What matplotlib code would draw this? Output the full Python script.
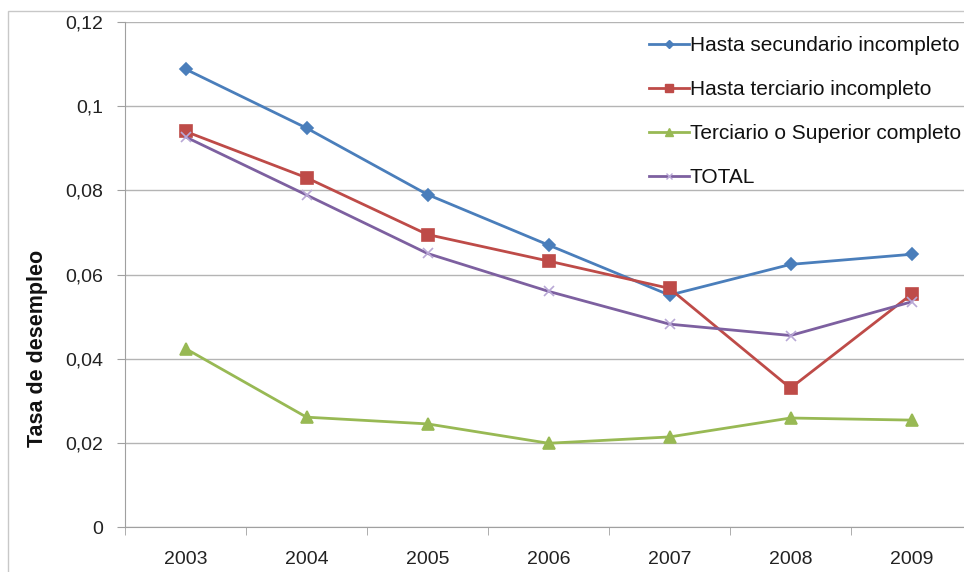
import matplotlib
matplotlib.use("Agg")
import matplotlib.pyplot as plt
from matplotlib.lines import Line2D
from matplotlib.patches import Rectangle

plt.rcParams['font.family'] = ['Liberation Sans', 'DejaVu Sans']

years = ["2003", "2004", "2005", "2006", "2007", "2008", "2009"]
secundario_incompleto = [0.1088, 0.0948, 0.0790, 0.0670, 0.0551, 0.0624, 0.0648]
terciario_incompleto = [0.0940, 0.0830, 0.0695, 0.0632, 0.0567, 0.0330, 0.0553]
terciario_completo = [0.0424, 0.0261, 0.0245, 0.0199, 0.0214, 0.0259, 0.0254]
total = [0.0927, 0.0789, 0.0650, 0.0560, 0.0482, 0.0455, 0.0535]

series_labels = ["Hasta secundario incompleto", "Hasta terciario incompleto",
                 "Terciario o Superior completo", "TOTAL"]
y_ticks = [0, 0.02, 0.04, 0.06, 0.08, 0.1, 0.12]
y_tick_labels = ["0", "0,02", "0,04", "0,06", "0,08", "0,1", "0,12"]

W, H = 964, 572
fig = plt.figure(figsize=(W / 100, H / 100), dpi=100)
fig.patch.set_facecolor("white")

# outer chart frame
fig.patches.append(Rectangle((8 / W, -0.05), 1.1, 1 - 11 / H + 0.05,
                             transform=fig.transFigure, fill=False,
                             edgecolor="#c8c8c8", linewidth=1.0))

left, right, top, bottom = 125, 972, 22, 527
ax = fig.add_axes([left / W, 1 - bottom / H, (right - left) / W, (bottom - top) / H])
ax.set_facecolor("none")

x = list(range(len(years)))
styles = [
    (secundario_incompleto, "#4a7ebb", "D", 6, "#4a7ebb"),
    (terciario_incompleto, "#be4b48", "s", 8, "#be4b48"),
    (terciario_completo, "#98b954", "^", 8, "#98b954"),
    (total, "#7d60a0", "x", 7, "#b9a8d6"),
]
handles = []
for (vals, color, marker, ms, mcolor), label in zip(styles, series_labels):
    ax.plot(x, vals, color=color, linewidth=2.0, marker=marker, markersize=ms,
            markerfacecolor=mcolor, markeredgecolor=mcolor, markeredgewidth=1.2,
            zorder=3, clip_on=False)
    handles.append(Line2D([0], [0], color=color, linewidth=2.0, marker=marker,
                          markersize=ms * 0.7, markerfacecolor=mcolor,
                          markeredgecolor=mcolor, label=label))

ax.set_xlim(-0.5, len(years) - 0.5)
ax.set_ylim(0, 0.12)
ax.set_yticks(y_ticks)
ax.set_yticklabels(y_tick_labels)
ax.yaxis.grid(True, color="#b4b4b4", linewidth=1.0)
ax.set_axisbelow(True)

# category labels centred, tick marks between categories
ax.set_xticks(x)
ax.set_xticklabels(years)
ax.set_xticks([i - 0.5 for i in range(len(years) + 1)], minor=True)
ax.tick_params(axis="x", which="major", length=0, pad=17, labelsize=14, labelcolor="#222222")
ax.tick_params(axis="x", which="minor", length=6, color="#a0a0a0", direction="out")
ax.tick_params(axis="y", length=6, color="#a0a0a0", labelsize=14, labelcolor="#222222", pad=10)

for side in ("top", "right"):
    ax.spines[side].set_visible(False)
ax.spines["left"].set_color("#a0a0a0")
ax.spines["bottom"].set_color("#a0a0a0")

fig.text(38 / W, 1 - 348 / H, "Tasa de desempleo", rotation=90, ha="center",
         va="center", fontsize=15.5, fontweight="bold", color="#111111")

leg = fig.legend(handles=handles, loc="upper left", bbox_to_anchor=(649 / W, 1 - 36 / H),
                 frameon=False, fontsize=15, handlelength=1.9, handletextpad=0.05,
                 labelspacing=1.2, borderpad=0, borderaxespad=0)
for t in leg.get_texts():
    t.set_color("#111111")

fig.savefig("out.png", dpi=100)
